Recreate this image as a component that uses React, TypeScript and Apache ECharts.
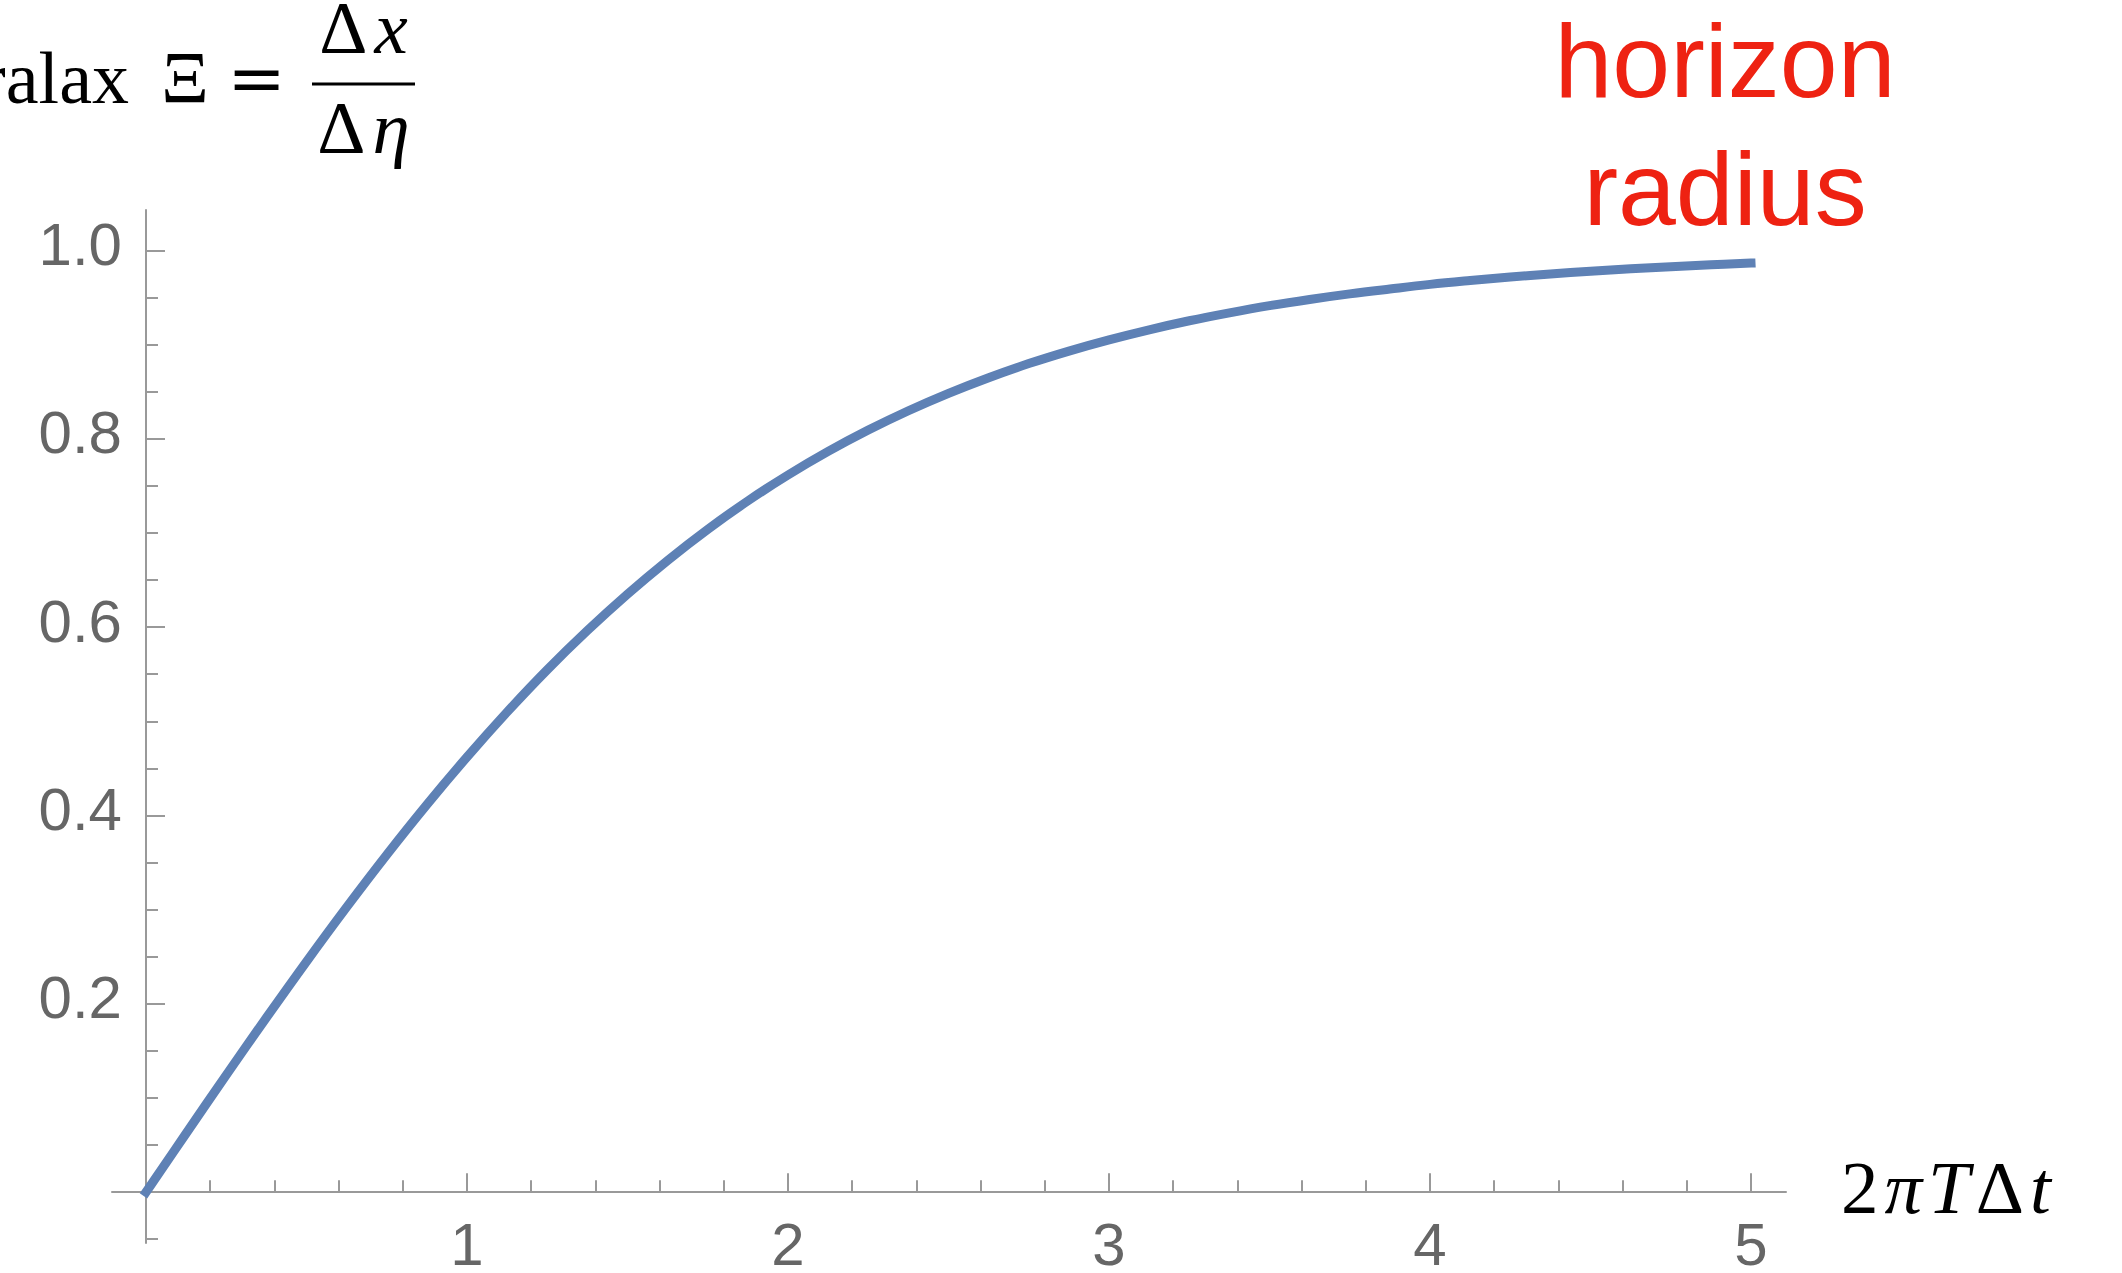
import React, { useEffect, useRef } from "react";
import * as echarts from "echarts";

// Data
const xValues = [
  0, 0.125, 0.25, 0.375, 0.5, 0.625, 0.75, 0.875, 1, 1.125, 1.25, 1.375, 1.5, 1.625, 1.75, 1.875, 2,
  2.125, 2.25, 2.375, 2.5, 2.625, 2.75, 2.875, 3, 3.125, 3.25, 3.375, 3.5, 3.625, 3.75, 3.875, 4,
  4.125, 4.25, 4.375, 4.5, 4.625, 4.75, 4.875, 5,
];
const parallax = [
  0, 0.0624, 0.1244, 0.1853, 0.2449, 0.3027, 0.3584, 0.4116, 0.4621, 0.5099, 0.5548, 0.5964, 0.6351,
  0.6709, 0.7039, 0.7341, 0.7616, 0.7866, 0.8093, 0.8298, 0.8483, 0.8649, 0.8799, 0.8932, 0.9051,
  0.9158, 0.9254, 0.9338, 0.9414, 0.948, 0.9539, 0.9591, 0.964, 0.9681, 0.9718, 0.9751, 0.978,
  0.9806, 0.9828, 0.9848, 0.9866,
];

const xMajorTicks = [0, 1, 2, 3, 4, 5];
const xLabelValues = [1, 2, 3, 4, 5];
const xMinorTicks = [0.2, 0.4, 0.6, 0.8, 1.2, 1.4, 1.6, 1.8, 2.2, 2.4, 2.6, 2.8, 3.2, 3.4, 3.6, 3.8, 4.2, 4.4, 4.6, 4.8];

const yMajorTicks = [0, 0.2, 0.4, 0.6, 0.8, 1.0];
const yLabelValues = [0.2, 0.4, 0.6, 0.8, 1.0];
const yMinorTicks = [-0.05, 0.05, 0.1, 0.15, 0.25, 0.3, 0.35, 0.45, 0.5, 0.55, 0.65, 0.7, 0.75, 0.85, 0.9, 0.95];

const AXIS_COLOR = "#999999";
const LABEL_COLOR = "#666666";
const CURVE_COLOR = "#5E81B5";
const RED = "#EE2212";
const SERIF = "'Liberation Serif', 'DejaVu Serif', serif";
const SANS = "'Liberation Sans', Arial, Helvetica, sans-serif";

export default function App() {
  const ref = useRef<HTMLDivElement>(null);

  useEffect(() => {
    if (!ref.current) return;
    const chart = echarts.init(ref.current, null, { renderer: "svg" });

    const xBase = {
      type: "value",
      min: -0.106,
      max: 5.109,
      position: "bottom",
      splitLine: { show: false },
      minorTick: { show: false },
    };
    const yBase = {
      type: "value",
      min: -0.054,
      max: 1.043,
      position: "left",
      splitLine: { show: false },
      minorTick: { show: false },
    };

    const mathRich = {
      u: { fontFamily: SERIF, fontSize: 75, lineHeight: 50, fill: "#000", color: "#000", padding: [0, 4] },
      i: { fontFamily: SERIF, fontSize: 75, lineHeight: 50, fontStyle: "italic", fill: "#000", color: "#000", padding: [0, 3] },
    };
    const xNameRich = {
      u: { fontFamily: SERIF, fontSize: 75, fill: "#000", color: "#000", padding: [0, 3] },
      i: { fontFamily: SERIF, fontSize: 75, fontStyle: "italic", fill: "#000", color: "#000", padding: [0, 3] },
    };

    chart.setOption({
      animation: false,
      backgroundColor: "#ffffff",
      grid: {
        left: 112,
        right: 336,
        top: 210,
        bottom: 30,
        containLabel: false,
        outerBoundsMode: "none",
      },
      xAxis: [
        {
          ...xBase,
          axisLine: { show: true, onZero: true, onZeroAxisIndex: 0, lineStyle: { color: AXIS_COLOR, width: 2 } },
          axisTick: { show: true, inside: true, length: 19, customValues: xMajorTicks, lineStyle: { color: AXIS_COLOR, width: 2 } },
          axisLabel: {
            show: true,
            customValues: xLabelValues,
            margin: -29,
            fontSize: 60,
            color: LABEL_COLOR,
            fontFamily: SANS,
            formatter: (v: number) => String(v),
          },
        },
        {
          ...xBase,
          axisLine: { show: true, onZero: true, onZeroAxisIndex: 0, lineStyle: { color: AXIS_COLOR, width: 2, opacity: 0 } },
          axisTick: { show: true, inside: true, length: 12, customValues: xMinorTicks, lineStyle: { color: AXIS_COLOR, width: 2 } },
          axisLabel: { show: false },
        },
      ],
      yAxis: [
        {
          ...yBase,
          axisLine: { show: true, onZero: true, onZeroAxisIndex: 0, lineStyle: { color: AXIS_COLOR, width: 2 } },
          axisTick: { show: true, inside: true, length: 19, customValues: yMajorTicks, lineStyle: { color: AXIS_COLOR, width: 2 } },
          axisLabel: {
            show: true,
            customValues: yLabelValues,
            margin: -10,
            fontSize: 60,
            lineHeight: 12,
            verticalAlign: "bottom",
            color: LABEL_COLOR,
            fontFamily: SANS,
            formatter: (v: number) => v.toFixed(1),
          },
        },
        {
          ...yBase,
          axisLine: { show: true, onZero: true, onZeroAxisIndex: 0, lineStyle: { color: AXIS_COLOR, width: 2, opacity: 0 } },
          axisTick: { show: true, inside: true, length: 12, customValues: yMinorTicks, lineStyle: { color: AXIS_COLOR, width: 2 } },
          axisLabel: { show: false },
        },
      ],
      series: [
        {
          type: "line",
          xAxisIndex: 0,
          yAxisIndex: 0,
          data: xValues.map((x, i) => [x, parallax[i]]),
          smooth: 0.4,
          showSymbol: false,
          symbol: "none",
          clip: false,
          lineStyle: { color: CURVE_COLOR, width: 9, cap: "square" },
          z: 5,
        },
      ],
      graphic: [
        {
          type: "text",
          x: 129,
          y: 77.7,
          style: { text: "Paralax", fontFamily: SERIF, fontSize: 74, fill: "#000", align: "right", verticalAlign: "middle" },
        },
        {
          type: "text",
          x: 185,
          y: 77.7,
          style: { text: "Ξ", fontFamily: SERIF, fontSize: 74, fill: "#000", align: "center", verticalAlign: "middle" },
        },
        {
          type: "text",
          x: 256.5,
          y: 77.7,
          style: { text: "=", fontFamily: "'DejaVu Serif', serif", fontSize: 70, fill: "#000", align: "center", verticalAlign: "middle" },
        },
        {
          type: "line",
          shape: { x1: 312, y1: 84, x2: 415, y2: 84 },
          style: { stroke: "#000", lineWidth: 3 },
        },
        {
          type: "text",
          x: 363,
          y: 27.7,
          style: { text: "{u|Δ}{i|x}", rich: mathRich, fill: "#000", align: "center", verticalAlign: "middle" },
        },
        {
          type: "text",
          x: 363,
          y: 127.7,
          style: { text: "{u|Δ}{i|η}", rich: mathRich, fill: "#000", align: "center", verticalAlign: "middle" },
        },
        {
          type: "text",
          x: 1838,
          y: 1187,
          style: { text: "{u|2}{i|π}{i|T}{u|Δ}{i|t}", rich: xNameRich, fill: "#000", align: "left", verticalAlign: "middle" },
        },
        {
          type: "text",
          x: 1725,
          y: 61,
          style: { text: "horizon", fontFamily: SANS, fontSize: 104, fill: RED, align: "center", verticalAlign: "middle" },
        },
        {
          type: "text",
          x: 1725,
          y: 189,
          style: { text: "radius", fontFamily: SANS, fontSize: 104, fill: RED, align: "center", verticalAlign: "middle" },
        },
      ],
    });

    return () => {
      chart.dispose();
    };
  }, []);

  return (
    <div
      ref={ref}
      style={{ position: "fixed", left: 0, top: 0, width: 2122, height: 1273, background: "#fff" }}
    />
  );
}
